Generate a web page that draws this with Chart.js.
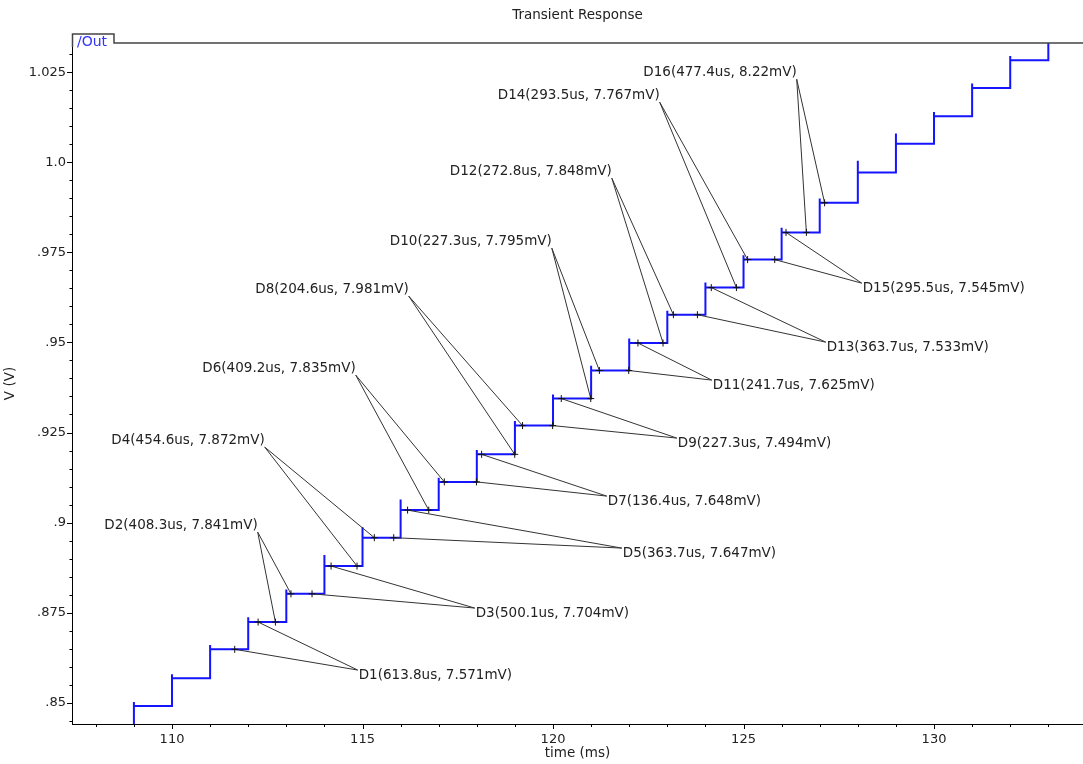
<!DOCTYPE html>
<html lang="en">
<head>
<meta charset="UTF-8">
<title>Transient Response</title>
<script src="https://cdn.jsdelivr.net/npm/chart.js"></script>
<style>
    html, body { margin: 0; padding: 0; background: #fff; }
    #wrap { width: 1083px; height: 764px; }
</style>
</head>
<body>
<div id="wrap"><canvas id="chart" width="1083" height="764"></canvas></div>
<script>
// rising edges of /Out (ms), the level it settles on (V) and the short overshoot at each edge (V)
const stepTimes = [109, 110, 111, 112, 113, 114, 115, 116, 117, 118, 119, 120, 121,
                   122, 123, 124, 125, 126, 127, 128, 129, 130, 131, 132, 133];
const stepLevels = [0.84908, 0.85677, 0.86482, 0.87239, 0.88023, 0.88794, 0.89581, 0.90346,
                    0.91129, 0.91894, 0.92692, 0.93442, 0.94221, 0.94984, 0.95769, 0.96522,
                    0.97299, 0.98053, 0.98875, 0.99717, 1.00511, 1.01279, 1.02064, 1.02833, 1.0362];
const stepPeaks = [0.85019, 0.85788, 0.86601, 0.87370, 0.88146, 0.89098, 0.89867, 0.90644,
                   0.91243, 0.92012, 0.92816, 0.93557, 0.94351, 0.95111, 0.95877, 0.96665,
                   0.97422, 0.98180, 0.98995, 1.00039, 1.00799, 1.01398, 1.02186, 1.02952, 1.04];
const startLevel = 0.84;

// delta markers D1..D16: first point sits on level n+2, second on level n+3
const deltaNames = ['D1', 'D2', 'D3', 'D4', 'D5', 'D6', 'D7', 'D8',
                    'D9', 'D10', 'D11', 'D12', 'D13', 'D14', 'D15', 'D16'];
const deltaStart = [111.646, 112.714, 113.675, 114.856, 115.819, 116.738, 117.99, 118.995,
                    119.99, 120.99, 121.987, 122.887, 123.79, 124.814, 125.819, 126.65];
const deltaEnd = [112.26, 113.122, 114.175, 115.31, 116.183, 117.147, 118.126, 119.2,
                  120.217, 121.217, 122.229, 123.16, 124.154, 125.107, 126.115, 127.128];
const deltaUs = [613.8, 408.3, 500.1, 454.6, 363.7, 409.2, 136.4, 204.6,
                 227.3, 227.3, 241.7, 272.8, 363.7, 293.5, 295.5, 477.4];
const deltaMv = [7.571, 7.841, 7.704, 7.872, 7.647, 7.835, 7.648, 7.981,
                 7.494, 7.795, 7.625, 7.848, 7.533, 7.767, 7.545, 8.22];
// where the two leader lines of each label meet (ms, V)
const labelTimes = [114.874, 112.249, 117.945, 112.433, 121.804, 114.822, 121.41, 116.213,
                    123.249, 119.968, 124.167, 121.543, 127.157, 122.8, 128.102, 126.396];
const labelVolts = [0.85907, 0.89736, 0.87628, 0.92095, 0.89292, 0.94093, 0.90735, 0.96285,
                    0.92345, 0.97617, 0.93954, 0.99559, 0.95008, 1.01668, 0.96645, 1.02306];

const xTickValues = [110, 115, 120, 125, 130];
const xTickLabels = ['110', '115', '120', '125', '130'];
const yTickValues = [0.85, 0.875, 0.9, 0.925, 0.95, 0.975, 1.0, 1.025];
const yTickLabels = ['.85', '.875', '.9', '.925', '.95', '.975', '1.0', '1.025'];

const FONT = 'DejaVu Sans';
const TEXT = '#222';

// staircase polyline
const outPoints = [{ x: stepTimes[0], y: startLevel }];
stepTimes.forEach((t, i) => {
    outPoints.push({ x: t, y: stepPeaks[i] });
    outPoints.push({ x: t, y: stepLevels[i] });
    if (i + 1 < stepTimes.length) outPoints.push({ x: stepTimes[i + 1], y: stepLevels[i] });
});

const datasets = [{
    label: '/Out',
    data: outPoints,
    borderColor: '#1414ff',
    borderWidth: 2,
    pointRadius: 0,
    tension: 0,
    order: 2
}];

deltaNames.forEach((name, i) => {
    datasets.push({
        label: name,
        data: [
            { x: deltaStart[i], y: stepLevels[i + 2] },
            { x: labelTimes[i], y: labelVolts[i] },
            { x: deltaEnd[i], y: stepLevels[i + 3] }
        ],
        borderColor: '#333',
        borderWidth: 1,
        pointStyle: 'cross',
        pointRadius: [3.5, 0, 3.5],
        pointBorderColor: '#111',
        pointBorderWidth: 1,
        tension: 0,
        order: 1
    });
});

function labelFor(values, labels, v) {
    const k = values.findIndex(m => Math.abs(m - v) < 1e-9);
    return k < 0 ? '' : labels[k];
}

function noPadding(s) {
    s.paddingLeft = 0;
    s.paddingRight = 0;
    s.paddingTop = 0;
    s.paddingBottom = 0;
}

const deltaText = {
    id: 'deltaText',
    afterDatasetsDraw(chart) {
        const { ctx, scales: { x, y } } = chart;
        ctx.save();
        ctx.font = '13.5px "' + FONT + '"';
        ctx.fillStyle = TEXT;
        ctx.textBaseline = 'middle';
        deltaNames.forEach((name, i) => {
            const px = x.getPixelForValue(labelTimes[i]);
            const py = y.getPixelForValue(labelVolts[i]);
            const text = name + '(' + deltaUs[i] + 'us, ' + deltaMv[i] + 'mV)';
            const right = i % 2 === 0;
            ctx.textAlign = right ? 'left' : 'right';
            ctx.fillText(text, right ? px + 1 : px, right ? py + 5 : py - 7);
        });
        ctx.restore();
    }
};

// tick marks (long for labelled ticks) plus the waveform tab on top
const frame = {
    id: 'frame',
    afterDraw(chart) {
        const { ctx, chartArea: a, scales: { x, y } } = chart;
        ctx.save();
        ctx.strokeStyle = '#000';
        ctx.lineWidth = 1;
        ctx.beginPath();
        x.ticks.forEach(t => {
            const px = Math.round(x.getPixelForValue(t.value)) + 0.5;
            ctx.moveTo(px, a.bottom);
            ctx.lineTo(px, a.bottom + (t.label ? 5 : 3));
        });
        y.ticks.forEach(t => {
            const py = Math.round(y.getPixelForValue(t.value)) + 0.5;
            ctx.moveTo(a.left, py);
            ctx.lineTo(a.left - (t.label ? 5 : 2.5), py);
        });
        ctx.stroke();

        const tabW = 42, tabH = 9;
        ctx.fillStyle = '#fff';
        ctx.fillRect(a.left, a.top - tabH, tabW, tabH + 4);
        ctx.strokeStyle = '#444';
        ctx.lineWidth = 1.5;
        ctx.beginPath();
        ctx.moveTo(a.left + 0.5, a.top + 4);
        ctx.lineTo(a.left + 0.5, a.top - tabH);
        ctx.lineTo(a.left + tabW, a.top - tabH);
        ctx.lineTo(a.left + tabW, a.top);
        ctx.lineTo(chart.width, a.top);
        ctx.stroke();
        ctx.font = '14px "' + FONT + '"';
        ctx.fillStyle = '#3333ff';
        ctx.textAlign = 'left';
        ctx.textBaseline = 'alphabetic';
        ctx.fillText('/Out', a.left + 5, a.top + 2.5);
        ctx.restore();
    }
};

Chart.defaults.font.family = FONT;

new Chart(document.getElementById('chart'), {
    type: 'line',
    data: { datasets },
    plugins: [deltaText, frame],
    options: {
        responsive: false,
        animation: false,
        devicePixelRatio: 1,
        events: [],
        layout: { padding: 0, autoPadding: false },
        plugins: {
            legend: { display: false },
            tooltip: { enabled: false },
            title: {
                display: true,
                text: 'Transient Response',
                fullSize: false,
                color: TEXT,
                font: { family: FONT, size: 13.5, weight: 'normal' },
                padding: { top: 7, bottom: 19.8 }
            }
        },
        scales: {
            x: {
                type: 'linear',
                min: 107.375,
                max: 133.91,
                afterBuildTicks: s => {
                    const ticks = [];
                    for (let v = 108; v <= 133; v++) ticks.push({ value: v });
                    s.ticks = ticks;
                },
                afterFit: s => { s.height = 40; noPadding(s); },
                grid: { display: false, drawTicks: false },
                border: { display: true, color: '#000', width: 1 },
                ticks: {
                    autoSkip: false,
                    maxRotation: 0,
                    padding: 8,
                    color: TEXT,
                    font: { size: 13 },
                    callback: v => labelFor(xTickValues, xTickLabels, v)
                },
                title: {
                    display: true,
                    text: 'time (ms)',
                    color: TEXT,
                    font: { size: 13.5 },
                    padding: { top: 0, bottom: 2 }
                }
            },
            y: {
                type: 'linear',
                min: 0.8441,
                max: 1.0331,
                afterBuildTicks: s => {
                    const ticks = [];
                    for (let k = 169; k <= 206; k++) ticks.push({ value: k * 5 / 1000 });
                    s.ticks = ticks;
                },
                afterFit: s => { s.width = 72; noPadding(s); },
                grid: { display: false, drawTicks: false },
                border: { display: true, color: '#000', width: 1 },
                ticks: {
                    autoSkip: false,
                    padding: 6,
                    color: TEXT,
                    font: { size: 13 },
                    callback: v => labelFor(yTickValues, yTickLabels, v)
                },
                title: {
                    display: true,
                    text: 'V (V)',
                    color: TEXT,
                    font: { size: 13.5 },
                    padding: { top: 2, bottom: 0 }
                }
            }
        }
    }
});
</script>
</body>
</html>
